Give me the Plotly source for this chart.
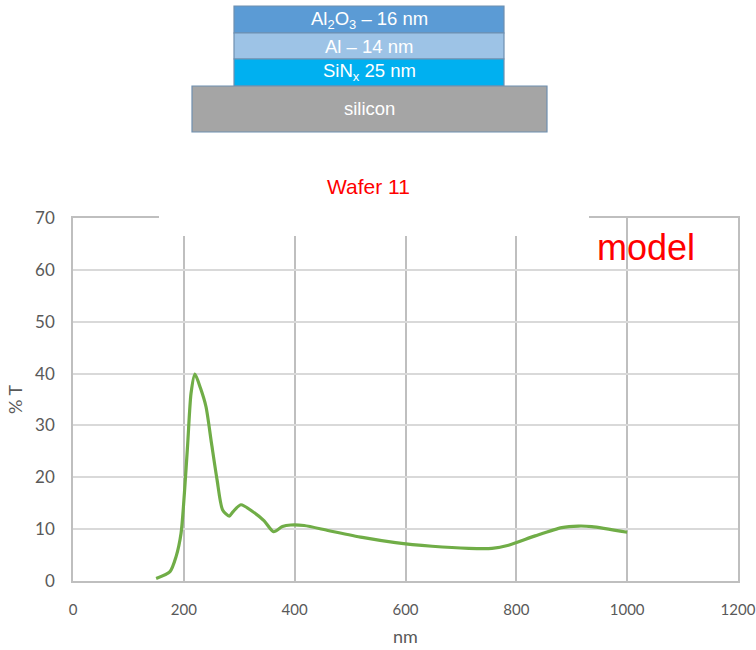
import plotly.graph_objects as go

# Transmission spectrum of wafer 11 (model)
wavelength_nm = [150, 175, 186, 195, 201, 207, 213, 220, 230, 240, 250, 260, 270,
                 282, 289, 303, 324, 345, 362, 378, 393, 417, 462, 522, 582, 648,
                 714, 756, 786, 834, 882, 912, 936, 1000]
transmission_pct = [0.5, 1.8, 4.7, 9.2, 16.9, 26.5, 36.2, 39.9, 37.2, 33.6, 26.5, 19.5, 13.7,
                    12.5, 13.4, 14.7, 13.4, 11.6, 9.5, 10.5, 10.8, 10.7, 9.7, 8.4, 7.4, 6.7,
                    6.3, 6.3, 6.9, 8.7, 10.3, 10.6, 10.5, 9.4]

x_ticks = [0, 200, 400, 600, 800, 1000, 1200]
y_ticks = [0, 10, 20, 30, 40, 50, 60, 70]

# Layer stack: label, fill colour, pixel box (x0, y0, x1, y1)
stack_labels = ["Al<sub>2</sub>O<sub>3</sub> – 16 nm", "Al – 14 nm", "SiN<sub>x</sub> 25 nm", "silicon"]
stack_colors = ["#5b9bd5", "#9dc3e6", "#00b0f0", "#a5a5a5"]
stack_boxes = [(234, 6, 504, 33), (234, 33, 504, 59), (234, 59, 504, 86), (192, 86, 547, 132)]

W, H = 756, 650
L, R, T, B = 73, 18, 218, 69
PW, PH = W - L - R, H - T - B

SANS = "Liberation Sans, Arial"
AXIS_FONT = "Lato, Liberation Sans"


def px(x):
    return (x - L) / PW


def py(y):
    return (H - B - y) / PH


fig = go.Figure()
fig.add_trace(go.Scatter(
    x=wavelength_nm, y=transmission_pct, mode="lines",
    line=dict(color="#70ad47", width=3.2, shape="spline", smoothing=0.7),
    showlegend=False, hoverinfo="x+y",
))

shapes = []
annotations = []
for label, color, (x0, y0, x1, y1) in zip(stack_labels, stack_colors, stack_boxes):
    shapes.append(dict(type="rect", xref="paper", yref="paper",
                       x0=px(x0), x1=px(x1), y0=py(y1), y1=py(y0),
                       fillcolor=color, line=dict(color="#6f8fb0", width=1.2),
                       layer="above"))
    annotations.append(dict(xref="paper", yref="paper", x=px((x0 + x1) / 2),
                            y=py((y0 + y1) / 2), text=label, showarrow=False,
                            font=dict(family=SANS, size=18.5, color="white"),
                            xanchor="center", yanchor="middle"))

# blank strip across the top of the chart frame
shapes.append(dict(type="rect", xref="paper", yref="paper",
                   x0=px(159), x1=px(589), y0=py(236), y1=py(150),
                   fillcolor="white", line=dict(width=0), layer="above"))

annotations.append(dict(xref="paper", yref="paper", x=px(368), y=py(187),
                        text="Wafer 11", showarrow=False,
                        font=dict(family=SANS, size=21, color="#ff0000"),
                        xanchor="center", yanchor="middle"))
annotations.append(dict(xref="paper", yref="paper", x=px(646), y=py(248),
                        text="model", showarrow=False,
                        font=dict(family=SANS, size=36, color="#ff0000"),
                        xanchor="center", yanchor="middle"))

fig.update_layout(
    width=W, height=H,
    margin=dict(l=L, r=R, t=T, b=B),
    paper_bgcolor="white", plot_bgcolor="white",
    font=dict(family=AXIS_FONT, color="#595959", size=17),
    shapes=shapes, annotations=annotations,
    xaxis=dict(range=[0, 1200], tickvals=x_ticks, showgrid=True, gridcolor="#bfbfbf",
               gridwidth=1.5, zeroline=False, showline=True, mirror=True,
               linecolor="#bfbfbf", linewidth=1.5, ticks="", automargin=False,
               tickfont=dict(size=15),
               ticklabelstandoff=14, ticklabeloverflow="allow",
               title=dict(text="nm", font=dict(size=18, color="#595959"), standoff=14)),
    yaxis=dict(range=[0, 70], tickvals=y_ticks, showgrid=True, gridcolor="#d9d9d9",
               gridwidth=1.5, zeroline=False, showline=True, mirror=True,
               linecolor="#bfbfbf", linewidth=1.5, ticks="", automargin=False,
               ticklabelstandoff=13,
               title=dict(text="% T", font=dict(size=18, color="#595959"), standoff=8)),
)

fig.write_html("out.html")
